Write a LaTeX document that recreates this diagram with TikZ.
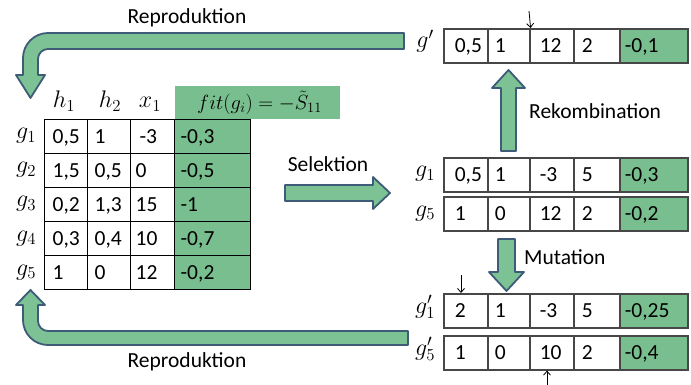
\RequirePackage{fix-cm}
\documentclass[tikz,border=0pt]{standalone}
\usepackage{fontspec}
\setmainfont{Carlito}
\usetikzlibrary{arrows.meta}
\definecolor{gfill}{RGB}{124,194,148}
\definecolor{aedge}{RGB}{62,92,120}
\definecolor{tgreen}{RGB}{120,190,142}
\tikzset{
  lbl/.style={font=\fontsize{21.5}{24}\selectfont, inner sep=0pt},
  mlbl/.style={font=\fontsize{24}{28}\selectfont, inner sep=0pt},
  cellL/.style={draw=black, line width=1.3pt, font=\fontsize{21.5}{24}\selectfont,
    text height=14pt, text depth=0pt, inner ysep=0pt, align=left},
  cellR/.style={draw=black!72, line width=1.6pt, font=\fontsize{21.5}{24}\selectfont,
    text height=14pt, text depth=0pt, inner ysep=0pt, align=left},
  fitfill/.style={fill=tgreen},
  bigarrow/.style={fill=gfill, draw=aedge, line width=1.8pt, line join=round},
  tinyarrow/.style={-{Straight Barb[length=4pt,width=7pt]}, line width=0.8pt},
}
\newcommand\tcell[8]{%
  \pgfmathsetmacro\tcw{#4-2*#6}%
  \node[#7, anchor=north west, inner xsep=#6pt, text width=\tcw pt, minimum height=#5pt] (#1) at (#2,#3) {#8};}
\begin{document}
\begin{tikzpicture}[x=1pt,y=-1pt]
\useasboundingbox (0,0) rectangle (691,385);

% ---------- big arrows ----------
\draw[bigarrow] (404,33) -- (48,33) .. controls (34.2,33) and (23,44.2) .. (23,58)
  -- (23,75) -- (16,75) -- (30.5,98) -- (45,75) -- (38,75) -- (38,59)
  .. controls (38,53.5) and (42.5,49) .. (48,49) -- (404,49) -- cycle;
\draw[bigarrow] (30.5,290) -- (45,305) -- (38,305) -- (38,321)
  .. controls (38,326.5) and (42.5,331) .. (48,331) -- (408,331) -- (408,345) -- (48,345)
  .. controls (34.2,345) and (23,333.8) .. (23,320) -- (23,305) -- (16,305) -- cycle;
\draw[bigarrow] (285,185) -- (373,185) -- (373,177) -- (390,193) -- (373,209) -- (373,201) -- (285,201) -- cycle;
\draw[bigarrow] (501,151) -- (501,88) -- (492,88) -- (508.5,70) -- (525,88) -- (516,88) -- (516,151) -- cycle;
\draw[bigarrow] (498,239) -- (498,272) -- (489,272) -- (506.5,291) -- (524,272) -- (515,272) -- (515,239) -- cycle;

% ---------- labels ----------
\node[lbl] (rtop) at (187,18) {Reproduktion};
\node[lbl] (rbot) at (187,362) {Reproduktion};
\node[lbl] (sel) at (328,164) {Selektion};
\node[lbl, anchor=west] (rek) at (529,111) {Rekombination};
\node[lbl, anchor=west] (mut) at (524,257) {Mutation};

% ---------- left table ----------
\node[fill=tgreen, anchor=north west, minimum width=165pt, minimum height=33pt, inner sep=0pt] (hdr) at (175,86) {};
\node[font=\fontsize{20.5}{24}\selectfont, inner sep=0pt] (hdrt) at (259.5,102.5) {$fit(g_i)=-\tilde{S}_{11}$};
\node[mlbl, anchor=base] (hh1) at (64,108) {$h_1$};
\node[mlbl, anchor=base] (hh2) at (110,108) {$h_2$};
\node[mlbl, anchor=base] (hx1) at (150,108) {$x_1$};

\tcell{a1}{44}{119}{43}{34}{8}{cellL}{0,5}
\tcell{b1}{87}{119}{43}{34}{7}{cellL}{1}
\tcell{c1}{130}{119}{44}{34}{9}{cellL}{-3}
\tcell{d1}{174}{119}{76}{34}{6}{cellL,fitfill}{-0,3}
\tcell{a2}{44}{153}{43}{34}{8}{cellL}{1,5}
\tcell{b2}{87}{153}{43}{34}{7}{cellL}{0,5}
\tcell{c2}{130}{153}{44}{34}{5}{cellL}{0}
\tcell{d2}{174}{153}{76}{34}{6}{cellL,fitfill}{-0,5}
\tcell{a3}{44}{187}{43}{34}{8}{cellL}{0,2}
\tcell{b3}{87}{187}{43}{34}{7}{cellL}{1,3}
\tcell{c3}{130}{187}{44}{34}{5}{cellL}{15}
\tcell{d3}{174}{187}{76}{34}{6}{cellL,fitfill}{-1}
\tcell{a4}{44}{221}{43}{34}{8}{cellL}{0,3}
\tcell{b4}{87}{221}{43}{34}{7}{cellL}{0,4}
\tcell{c4}{130}{221}{44}{34}{5}{cellL}{10}
\tcell{d4}{174}{221}{76}{34}{6}{cellL,fitfill}{-0,7}
\tcell{a5}{44}{255}{43}{34}{8}{cellL}{1}
\tcell{b5}{87}{255}{43}{34}{7}{cellL}{0}
\tcell{c5}{130}{255}{44}{34}{5}{cellL}{12}
\tcell{d5}{174}{255}{76}{34}{6}{cellL,fitfill}{-0,2}

\node[mlbl, anchor=base] (lg1) at (26,139) {$g_1$};
\node[mlbl, anchor=base] (lg2) at (26,173) {$g_2$};
\node[mlbl, anchor=base] (lg3) at (26,207) {$g_3$};
\node[mlbl, anchor=base] (lg4) at (26,241) {$g_4$};
\node[mlbl, anchor=base] (lg5) at (26,275) {$g_5$};

% ---------- right tables ----------
% g'
\tcell{p1}{443}{28}{44}{34}{11}{cellR}{0,5}
\tcell{p2}{487}{28}{42}{34}{7}{cellR}{1}
\tcell{p3}{529}{28}{44}{34}{10}{cellR}{12}
\tcell{p4}{573}{28}{46}{34}{8}{cellR}{2}
\tcell{p5}{619}{28}{68}{34}{5}{cellR,fitfill}{-0,1}
% g1
\tcell{s11}{443}{157}{44}{34}{11}{cellR}{0,5}
\tcell{s12}{487}{157}{42}{34}{7}{cellR}{1}
\tcell{s13}{529}{157}{44}{34}{10}{cellR}{-3}
\tcell{s14}{573}{157}{46}{34}{8}{cellR}{5}
\tcell{s15}{619}{157}{68}{34}{5}{cellR,fitfill}{-0,3}
% g5
\tcell{s51}{443}{196}{44}{34}{11}{cellR}{1}
\tcell{s52}{487}{196}{42}{34}{7}{cellR}{0}
\tcell{s53}{529}{196}{44}{34}{10}{cellR}{12}
\tcell{s54}{573}{196}{46}{34}{8}{cellR}{2}
\tcell{s55}{619}{196}{68}{34}{5}{cellR,fitfill}{-0,2}
% g1'
\tcell{m11}{443}{293}{44}{34}{11}{cellR}{2}
\tcell{m12}{487}{293}{42}{34}{7}{cellR}{1}
\tcell{m13}{529}{293}{44}{34}{10}{cellR}{-3}
\tcell{m14}{573}{293}{46}{34}{8}{cellR}{5}
\tcell{m15}{619}{293}{68}{34}{5}{cellR,fitfill}{-0,25}
% g5'
\tcell{m51}{443}{335}{44}{34}{11}{cellR}{1}
\tcell{m52}{487}{335}{42}{34}{7}{cellR}{0}
\tcell{m53}{529}{335}{44}{34}{10}{cellR}{10}
\tcell{m54}{573}{335}{46}{34}{8}{cellR}{2}
\tcell{m55}{619}{335}{68}{34}{5}{cellR,fitfill}{-0,4}

\node[mlbl, anchor=base] (rgp) at (425,48) {$g'$};
\node[mlbl, anchor=base] (rg1) at (425,177) {$g_1$};
\node[mlbl, anchor=base] (rg5) at (425,216) {$g_5$};
\node[mlbl, anchor=base] (rg1p) at (425,313) {$g_1'$};
\node[mlbl, anchor=base] (rg5p) at (425,355) {$g_5'$};

% ---------- small arrows ----------
\coordinate (kx) at (529,11);
\draw[tinyarrow] (kx) -- (p2.north east);
\coordinate (k1) at (461,275);
\draw[tinyarrow] (k1) -- (k1 |- m11.north);
\coordinate (k5) at (547,385);
\draw[tinyarrow] (k5) -- (k5 |- m53.south);
\end{tikzpicture}
\end{document}
